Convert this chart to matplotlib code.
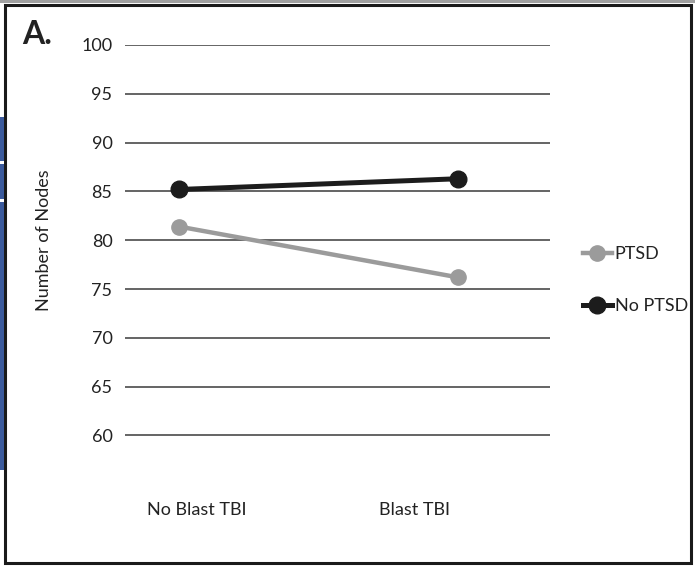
import matplotlib.pyplot as plt
from matplotlib.patches import Rectangle

# Chart values
groups = ['No Blast TBI', 'Blast TBI']
ptsd = [81.4, 76.2]
no_ptsd = [85.2, 86.3]
y_ticks = [60, 65, 70, 75, 80, 85, 90, 95, 100]

GRAY = '#9b9b9b'
BLACK = '#1c1c1c'
GRID = '#3a3a3a'
FONT = 'Lato'

W, H = 695, 567
plt.rcParams['font.family'] = [FONT, 'DejaVu Sans']

fig = plt.figure(figsize=(W / 100, H / 100), dpi=100)
ax = fig.add_axes([125 / W, 1 - 435.5 / H, 425 / W, 390.5 / H])

x = [0, 1]
ax.plot(x, ptsd, color=GRAY, lw=3.2, marker='o', ms=11, label='PTSD', zorder=3)
ax.plot(x, no_ptsd, color=BLACK, lw=3.6, marker='o', ms=12, label='No PTSD', zorder=4)

ax.set_xlim(-0.194, 1.33)
ax.set_ylim(60, 100)
ax.set_yticks(y_ticks)
ax.set_xticks([])
for t in y_ticks:
    ax.axhline(t, color=GRID, lw=1.1, zorder=1)
for s in ax.spines.values():
    s.set_visible(False)
ax.tick_params(axis='y', length=0, pad=9, labelsize=13, labelcolor='#222222')

# category labels, offset from the points as in the original
label_x = [0.065, 0.845]
for lx, g in zip(label_x, groups):
    ax.text(lx, 52.4, g, ha='center', va='center', fontsize=13, color='#222222')

fig.text(44 / W, 1 - 240 / H, 'Number of Nodes', rotation=90, ha='center', va='center',
         fontsize=13, color='#222222')
fig.text(22 / W, 1 - 34 / H, 'A.', ha='left', va='center', fontsize=23,
         fontweight='bold', color='#222222')

handles, labels = ax.get_legend_handles_labels()
leg = fig.legend(handles, labels, loc='center left', bbox_to_anchor=(574 / W, 1 - 280 / H),
                 frameon=False, fontsize=13, handlelength=1.6, handletextpad=0.15,
                 labelspacing=2.0, borderpad=0)
for t in leg.get_texts():
    t.set_color('#222222')

# outer frame and the blue strip left of it
fig.patches.append(Rectangle((5 / W, 4 / H), 686 / W, 558 / H, transform=fig.transFigure,
                             fill=False, ec='#1a1a1a', lw=2.2))
fig.patches.append(Rectangle((0, 1 - 470 / H), 4 / W, 353 / H, transform=fig.transFigure,
                             fc='#3b5a9c', ec='none'))
for gy in [162, 200]:
    fig.patches.append(Rectangle((0, 1 - (gy + 2) / H), 4 / W, 3 / H,
                                 transform=fig.transFigure, fc='white', ec='none'))
fig.patches.append(Rectangle((0, 1 - 3 / H), 1, 3 / H, transform=fig.transFigure,
                             fc='#a0a0a0', ec='none'))

fig.savefig('out.png', dpi=100)
